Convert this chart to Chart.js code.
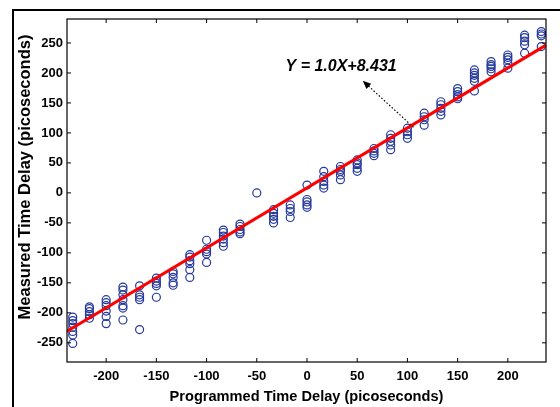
<!DOCTYPE html>
<html>
<head>
<meta charset="utf-8">
<script src="https://cdn.jsdelivr.net/npm/chart.js@4.4.1/dist/chart.umd.min.js"></script>
<style>
  html, body { margin: 0; padding: 0; background: #fff; }
  #wrap { width: 560px; height: 407px; position: relative; }
</style>
</head>
<body>
<div id="wrap"><canvas id="chart"></canvas></div>
<script>
// programmed delay for each column of measurements (ps)
const programmed = [-233.3, -216.7, -200, -183.3, -166.7, -150, -133.3, -116.7, -100, -83.3,
  -66.7, -50, -33.3, -16.7, 0, 16.7, 33.3, 50, 66.7, 83.3,
  100, 116.7, 133.3, 150, 166.7, 183.3, 200, 216.7, 233.3]

// measured delays, one list per programmed value
const measured = [
  [-207, -213, -218, -224, -231, -237, -251],
  [-190, -193, -198, -203, -209],
  [-178, -183, -188, -197, -206, -218],
  [-157, -162, -170, -178, -188, -192, -212],
  [-155, -170, -174, -178, -228],
  [-142, -147, -151, -155, -174],
  [-131, -135, -141, -150, -154],
  [-103, -107, -113, -118, -128, -141],
  [-79, -94, -98, -102, -116],
  [-62, -66, -72, -77, -83, -89],
  [-52, -56, -61, -65, -68],
  [0],
  [-28, -34, -39, -44, -50],
  [-20, -26, -31, -41],
  [13, -11, -15, -20, -24],
  [36, 27, 19, 13, 8],
  [44, 39, 36, 30, 22],
  [55, 50, 47, 41, 36],
  [74, 70, 66, 62],
  [97, 91, 86, 80, 72],
  [108, 102, 97, 91],
  [133, 127, 122, 113],
  [152, 147, 141, 136, 130],
  [174, 169, 164, 160, 157],
  [205, 200, 196, 191, 186, 170],
  [219, 214, 211, 207, 202],
  [230, 226, 222, 216, 208],
  [263, 259, 253, 247, 233],
  [269, 265, 262, 244]
]

// least squares fit line end points
const fitX = [-239, 238]
const fitY = [-230.6, 246.4]
const fitLabel = 'Y = 1.0X+8.431'

const xTicks = [-200, -150, -100, -50, 0, 50, 100, 150, 200]
const yTicks = [-250, -200, -150, -100, -50, 0, 50, 100, 150, 200, 250]

const yTitle = 'Measured Time Delay (picoseconds)'
const xTitle = 'Programmed Time Delay (picoseconds)'

const scatterPoints = []
programmed.forEach((x, i) => {
  measured[i].forEach(y => scatterPoints.push({x, y}))
})

const fitPoints = fitX.map((x, i) => ({x, y: fitY[i]}))

const FAMILY = '"Liberation Sans", Arial, Helvetica, sans-serif'
const boldFont = size => ({family: FAMILY, size, weight: 'bold'})

// box, inward ticks, outer frame, y title and the fit annotation
const framePlugin = {
  id: 'frame',
  afterDraw(chart) {
    const {ctx, chartArea: a, scales: {x, y}} = chart
    ctx.save()
    ctx.strokeStyle = '#000'

    // outer figure frame (top + left)
    ctx.lineWidth = 2
    ctx.beginPath()
    ctx.moveTo(13, chart.height)
    ctx.lineTo(13, 10)
    ctx.lineTo(chart.width, 10)
    ctx.stroke()

    // axes box
    ctx.lineWidth = 1.2
    ctx.strokeRect(a.left, a.top, a.right - a.left, a.bottom - a.top)

    const tl = 4
    ctx.lineWidth = 1
    ctx.beginPath()
    xTicks.forEach(v => {
      const px = x.getPixelForValue(v)
      ctx.moveTo(px, a.bottom); ctx.lineTo(px, a.bottom - tl)
      ctx.moveTo(px, a.top); ctx.lineTo(px, a.top + tl)
    })
    yTicks.forEach(v => {
      const py = y.getPixelForValue(v)
      ctx.moveTo(a.left, py); ctx.lineTo(a.left + tl, py)
      ctx.moveTo(a.right, py); ctx.lineTo(a.right - tl, py)
    })
    ctx.stroke()

    // y axis title
    ctx.fillStyle = '#000'
    ctx.font = 'bold 16.5px ' + FAMILY
    ctx.textAlign = 'center'
    ctx.textBaseline = 'middle'
    ctx.save()
    ctx.translate(25, 177)
    ctx.rotate(-Math.PI / 2)
    ctx.fillText(yTitle, 0, 0)
    ctx.restore()

    // dotted arrow pointing at the equation
    const x0 = x.getPixelForValue(106), y0 = y.getPixelForValue(109.5)
    const x1 = x.getPixelForValue(55.5), y1 = y.getPixelForValue(187)
    const ang = Math.atan2(y1 - y0, x1 - x0)
    const head = 9
    ctx.setLineDash([1.5, 2])
    ctx.lineWidth = 1.2
    ctx.beginPath()
    ctx.moveTo(x0, y0)
    ctx.lineTo(x1 - Math.cos(ang) * head * 0.8, y1 - Math.sin(ang) * head * 0.8)
    ctx.stroke()
    ctx.setLineDash([])
    ctx.beginPath()
    ctx.moveTo(x1, y1)
    ctx.lineTo(x1 - head * Math.cos(ang - 0.4), y1 - head * Math.sin(ang - 0.4))
    ctx.lineTo(x1 - head * Math.cos(ang + 0.4), y1 - head * Math.sin(ang + 0.4))
    ctx.closePath()
    ctx.fill()

    ctx.font = 'italic bold 16px ' + FAMILY
    ctx.fillText(fitLabel, x.getPixelForValue(34), y.getPixelForValue(210))
    ctx.restore()
  }
}

new Chart(document.getElementById('chart').getContext('2d'), {
  type: 'scatter',
  data: {
    datasets: [
      {
        type: 'line',
        label: 'fit',
        data: fitPoints,
        borderColor: '#ff0000',
        borderWidth: 3,
        pointRadius: 0,
        fill: false
      },
      {
        label: 'measured',
        data: scatterPoints,
        pointStyle: 'circle',
        pointRadius: 4,
        pointBorderWidth: 1.2,
        pointBorderColor: '#25399c',
        pointBackgroundColor: 'rgba(0,0,0,0)'
      }
    ]
  },
  options: {
    responsive: true,
    maintainAspectRatio: false,
    animation: false,
    layout: {padding: {top: 19, right: 14, left: 0, bottom: 0}},
    plugins: {legend: {display: false}, tooltip: {enabled: false}},
    scales: {
      x: {
        type: 'linear',
        min: -239,
        max: 238,
        grid: {display: false, drawTicks: false},
        border: {display: false},
        afterBuildTicks: s => { s.ticks = xTicks.map(value => ({value})) },
        afterFit: s => { s.height = 45 },
        ticks: {font: boldFont(13), color: '#000', padding: 7, maxRotation: 0, autoSkip: false},
        title: {display: true, text: xTitle, font: boldFont(14.6), color: '#000', padding: {top: 0, bottom: 1}}
      },
      y: {
        type: 'linear',
        min: -282,
        max: 290,
        grid: {display: false, drawTicks: false},
        border: {display: false},
        afterBuildTicks: s => { s.ticks = yTicks.map(value => ({value})) },
        afterFit: s => { s.width = 67 },
        ticks: {font: boldFont(13), color: '#000', padding: 4, autoSkip: false},
        title: {display: false}
      }
    }
  },
  plugins: [framePlugin]
})
</script>
</body>
</html>
